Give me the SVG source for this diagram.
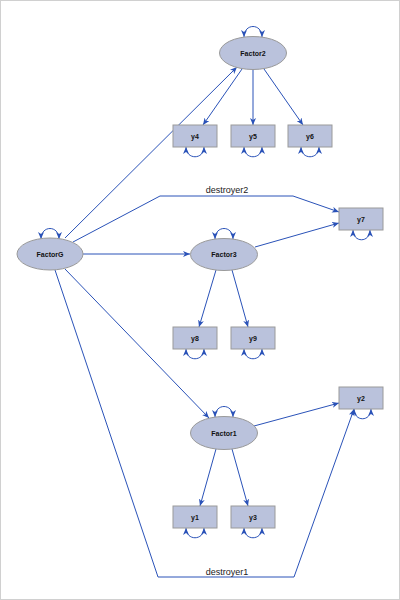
<svg xmlns="http://www.w3.org/2000/svg" width="400" height="600" viewBox="0 0 400 600">
<style>
.node{fill:#BAC2DC;stroke:#9a9a9a;stroke-width:1}
.lbl{font-family:"Liberation Sans",Arial,sans-serif;font-size:7px;font-weight:bold;fill:#111;text-anchor:middle}
.elbl{font-family:"Liberation Sans",Arial,sans-serif;font-size:9px;fill:#222;text-anchor:middle}
.edge{fill:none;stroke:#2A52B8;stroke-width:1;marker-end:url(#ah)}
.loop{fill:none;stroke:#2A52B8;stroke-width:1;marker-start:url(#ah);marker-end:url(#ah)}
</style>
<defs>
<marker id="ah" markerUnits="userSpaceOnUse" markerWidth="8" markerHeight="6" refX="7" refY="3" orient="auto-start-reverse">
<path d="M0,0 L7,3 L0,6 L2,3 z" fill="#2A52B8"/>
</marker>
</defs>
<rect x="0.5" y="0.5" width="399" height="599" fill="#fff" stroke="#d0d0d0"/>
<g id="connectors">
<path class="edge" d="M65,238 L237,67"/>
<path class="edge" d="M73,242 L160,196 L293,196 L339,212"/>
<path class="edge" d="M83,254 L190,254"/>
<path class="edge" d="M255,247 L339,223"/>
<path class="edge" d="M65,269 L209,418"/>
<path class="edge" d="M254,426 L339,403"/>
<path class="edge" d="M55,270 L158,577 L294,577 L354,409"/>
<path class="edge" d="M242,69 L203,125"/>
<path class="edge" d="M253,69 L253,125"/>
<path class="edge" d="M264,69 L303,125"/>
<path class="edge" d="M216,270 L199,327"/>
<path class="edge" d="M232,270 L248,327"/>
<path class="edge" d="M216,449 L200,506"/>
<path class="edge" d="M232,449 L248,506"/>
<path class="loop" d="M244,37 C244,23 262,23 262,37"/>
<path class="loop" d="M41,239 C41,225 59,225 59,239"/>
<path class="loop" d="M215,239 C215,225 233,225 233,239"/>
<path class="loop" d="M215,417 C215,403 233,403 233,417"/>
<path class="loop" d="M186,147 C186,160 204,160 204,147"/>
<path class="loop" d="M244,147 C244,160 262,160 262,147"/>
<path class="loop" d="M301,147 C301,160 319,160 319,147"/>
<path class="loop" d="M353,230 C353,243 370,243 370,230"/>
<path class="loop" d="M186,349 C186,362 204,362 204,349"/>
<path class="loop" d="M244,349 C244,362 262,362 262,349"/>
<path class="loop" d="M354,409 C354,422 371,422 371,409"/>
<path class="loop" d="M186,528 C186,541 204,541 204,528"/>
<path class="loop" d="M244,528 C244,541 262,541 262,528"/>
<text class="elbl" x="227" y="193">destroyer2</text>
<text class="elbl" x="227" y="575">destroyer1</text>
</g>
<g id="Factor2"><ellipse class="node" cx="253" cy="53" rx="33.5" ry="16.5"/><text class="lbl" x="253" y="55.5">Factor2</text></g>
<g id="FactorG"><ellipse class="node" cx="50" cy="254" rx="33" ry="16"/><text class="lbl" x="50" y="256.5">FactorG</text></g>
<g id="Factor3"><ellipse class="node" cx="224" cy="254.5" rx="33.5" ry="16"/><text class="lbl" x="224" y="257">Factor3</text></g>
<g id="Factor1"><ellipse class="node" cx="224" cy="433" rx="33.5" ry="16.5"/><text class="lbl" x="224" y="435.5">Factor1</text></g>
<g id="y4"><rect class="node" x="173" y="125" width="44" height="22"/><text class="lbl" x="195" y="138.5">y4</text></g>
<g id="y5"><rect class="node" x="231" y="125" width="44" height="22"/><text class="lbl" x="253" y="138.5">y5</text></g>
<g id="y6"><rect class="node" x="288" y="125" width="44" height="22"/><text class="lbl" x="310" y="138.5">y6</text></g>
<g id="y7"><rect class="node" x="339" y="208" width="44" height="22"/><text class="lbl" x="361" y="221.5">y7</text></g>
<g id="y8"><rect class="node" x="173" y="327" width="44" height="22"/><text class="lbl" x="195" y="340.5">y8</text></g>
<g id="y9"><rect class="node" x="231" y="327" width="44" height="22"/><text class="lbl" x="253" y="340.5">y9</text></g>
<g id="y2"><rect class="node" x="339" y="387" width="44" height="22"/><text class="lbl" x="361" y="400.5">y2</text></g>
<g id="y1"><rect class="node" x="173" y="506" width="44" height="22"/><text class="lbl" x="195" y="519.5">y1</text></g>
<g id="y3"><rect class="node" x="231" y="506" width="44" height="22"/><text class="lbl" x="253" y="519.5">y3</text></g>
</svg>
